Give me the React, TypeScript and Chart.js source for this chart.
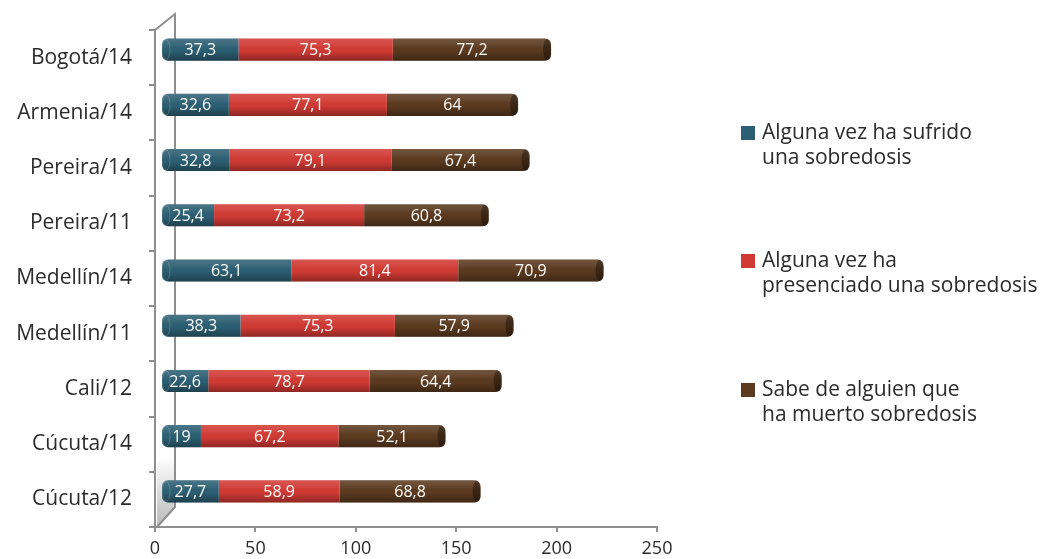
import React, { useEffect, useRef } from "react";
import { Chart, registerables } from "chart.js";

Chart.register(...registerables);

const categories = [
  "Bogotá/14",
  "Armenia/14",
  "Pereira/14",
  "Pereira/11",
  "Medellín/14",
  "Medellín/11",
  "Cali/12",
  "Cúcuta/14",
  "Cúcuta/12",
];
const sufrido = [37.3, 32.6, 32.8, 25.4, 63.1, 38.3, 22.6, 19, 27.7];
const presenciado = [75.3, 77.1, 79.1, 73.2, 81.4, 75.3, 78.7, 67.2, 58.9];
const sabe = [77.2, 64, 67.4, 60.8, 70.9, 57.9, 64.4, 52.1, 68.8];
const seriesLines = [
  ["Alguna vez ha sufrido", "una sobredosis"],
  ["Alguna vez ha", "presenciado una sobredosis"],
  ["Sabe de alguien que", "ha muerto sobredosis"],
];
const seriesColors = ["#2c5f73", "#d13a34", "#5b3a1f"];
const xMin = 0;
const xMax = 250;
const xStep = 50;

const FONT = "'Open Sans', Lato, sans-serif";
const AXIS_COLOR = "#8e8e8e";
const TEXT_COLOR = "#2b2b2b";
const DX = 20;
const DY = 16;
const BAR_SHIFT = 8;
const BAR_PX_PER_UNIT = 2.05;
const BAR_ZERO_OFFSET = 7;
const PLOT_WIDTH = 502;

const fmt = (v: number) => String(v).replace(".", ",");

const depthPlugin = {
  id: "depth3d",
  beforeDatasetsDraw(chart: any) {
    const { ctx, chartArea: a } = chart;
    ctx.save();
    const g = ctx.createLinearGradient(0, a.bottom - 70, 0, a.bottom);
    g.addColorStop(0, "rgba(0,0,0,0)");
    g.addColorStop(1, "rgba(0,0,0,0.28)");
    ctx.fillStyle = g;
    ctx.beginPath();
    ctx.moveTo(a.left + 2, a.bottom - 65);
    ctx.lineTo(a.left + DX, a.bottom - DY - 70);
    ctx.lineTo(a.left + DX, a.bottom - DY - 4);
    ctx.lineTo(a.left + 2, a.bottom - 1);
    ctx.closePath();
    ctx.fill();
    ctx.strokeStyle = AXIS_COLOR;
    ctx.lineWidth = 2;
    ctx.beginPath();
    ctx.moveTo(a.left, a.top);
    ctx.lineTo(a.left + DX, a.top - DY);
    ctx.lineTo(a.left + DX, a.bottom - DY - 4);
    ctx.lineTo(a.left + 2, a.bottom);
    ctx.stroke();
    ctx.restore();
    ctx.save();
    ctx.translate(0, -BAR_SHIFT);
  },
  afterDatasetsDraw(chart: any) {
    const { ctx } = chart;
    const n = chart.data.datasets.length;
    chart.data.datasets.forEach((ds: any, di: number) => {
      const meta = chart.getDatasetMeta(di);
      meta.data.forEach((el: any, i: number) => {
        const { x, y, base, height } = el.getProps(["x", "y", "base", "height"], true);
        const left = Math.min(x, base);
        const w = Math.abs(x - base);
        const top = y - height / 2;
        const r = 6;
        const radii =
          di === 0 ? [r, 0, 0, r] : di === n - 1 ? [0, r, r, 0] : [0, 0, 0, 0];
        const g = ctx.createLinearGradient(0, top, 0, top + height);
        g.addColorStop(0, "rgba(255,255,255,0.14)");
        g.addColorStop(0.3, "rgba(255,255,255,0.06)");
        g.addColorStop(0.55, "rgba(0,0,0,0)");
        g.addColorStop(1, "rgba(0,0,0,0.32)");
        ctx.save();
        ctx.fillStyle = g;
        ctx.beginPath();
        ctx.roundRect(left, top, w, height, radii);
        ctx.fill();
        if (di === n - 1) {
          ctx.fillStyle = "rgba(0,0,0,0.35)";
          ctx.beginPath();
          ctx.ellipse(left + w - 4, y, 4, height / 2 - 0.5, 0, 0, Math.PI * 2);
          ctx.fill();
        }
        if (di === 0) {
          ctx.strokeStyle = "rgba(255,255,255,0.18)";
          ctx.lineWidth = 1;
          ctx.beginPath();
          ctx.ellipse(left + 4, y, 4, height / 2 - 1, 0, 0, Math.PI * 2);
          ctx.stroke();
        }
        ctx.fillStyle = "#ffffff";
        ctx.font = `16px ${FONT}`;
        ctx.textAlign = "center";
        ctx.textBaseline = "middle";
        ctx.fillText(fmt(ds.data[i]), left + w / 2, y + 1);
        ctx.restore();
      });
    });
    ctx.restore();
  },
};

export default function App() {
  const ref = useRef<HTMLCanvasElement | null>(null);

  useEffect(() => {
    if (!ref.current) return;
    const bMin = -BAR_ZERO_OFFSET / BAR_PX_PER_UNIT;
    const bMax = bMin + PLOT_WIDTH / BAR_PX_PER_UNIT;
    const chart = new Chart(ref.current, {
      type: "bar",
      data: {
        labels: categories,
        datasets: [sufrido, presenciado, sabe].map((d, i) => ({
          label: seriesLines[i].join(" "),
          data: d,
          xAxisID: "xb",
          backgroundColor: seriesColors[i],
          borderWidth: 0,
          borderSkipped: false,
          borderRadius:
            i === 0
              ? { topLeft: 6, bottomLeft: 6, topRight: 0, bottomRight: 0 }
              : i === 2
              ? { topLeft: 0, bottomLeft: 0, topRight: 6, bottomRight: 6 }
              : 0,
          barPercentage: 0.4,
          categoryPercentage: 1,
        })),
      },
      options: {
        indexAxis: "y",
        responsive: false,
        animation: false,
        devicePixelRatio: 1,
        layout: { padding: { top: 30, right: 390, bottom: 0, left: 0 } },
        plugins: { legend: { display: false }, tooltip: { enabled: false } },
        scales: {
          y: {
            stacked: true,
            offset: true,
            grid: {
              offset: true,
              drawOnChartArea: false,
              drawTicks: true,
              tickLength: 6,
              color: AXIS_COLOR,
              lineWidth: 2,
            },
            border: { color: AXIS_COLOR, width: 2 },
            ticks: {
              padding: 17,
              color: TEXT_COLOR,
              font: { family: FONT, size: 21 },
            },
            afterFit: (s: any) => {
              s.width = 155;
            },
          },
          x: {
            type: "linear",
            min: xMin,
            max: xMax,
            position: "bottom",
            grid: {
              drawOnChartArea: false,
              drawTicks: true,
              tickLength: 5,
              color: AXIS_COLOR,
              lineWidth: 2,
            },
            border: { color: AXIS_COLOR, width: 2 },
            ticks: {
              stepSize: xStep,
              padding: 6,
              color: TEXT_COLOR,
              font: { family: FONT, size: 18 },
            },
            afterFit: (s: any) => {
              s.height = 32;
            },
          },
          xb: {
            type: "linear",
            stacked: true,
            display: false,
            min: bMin,
            max: bMax,
          },
        },
      },
      plugins: [depthPlugin],
    } as any);
    return () => chart.destroy();
  }, []);

  const legendTops = [119, 247, 376];

  return (
    <div style={{ position: "absolute", left: 0, top: 0, width: 1047, height: 559, background: "#fff" }}>
      <canvas ref={ref} width={1047} height={559} style={{ display: "block" }} />
      {seriesLines.map((lines, i) => (
        <div
          key={i}
          style={{
            position: "absolute",
            left: 741,
            top: legendTops[i],
            fontFamily: FONT,
            fontSize: 21,
            lineHeight: "25px",
            color: TEXT_COLOR,
            whiteSpace: "nowrap",
          }}
        >
          <span
            style={{
              position: "absolute",
              left: 0,
              top: 7,
              width: 14,
              height: 14,
              background: seriesColors[i],
            }}
          />
          <div style={{ paddingLeft: 21 }}>
            {lines.map((l, j) => (
              <div key={j}>{l}</div>
            ))}
          </div>
        </div>
      ))}
    </div>
  );
}
